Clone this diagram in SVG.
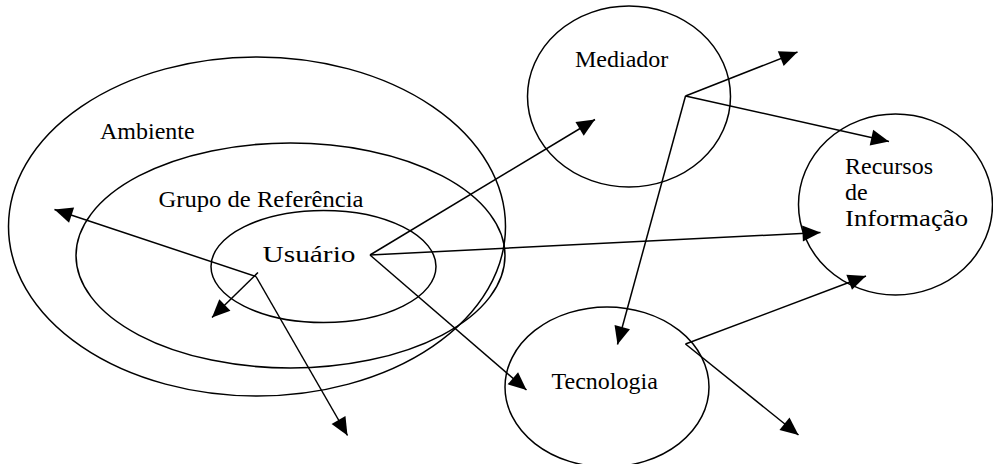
<svg xmlns="http://www.w3.org/2000/svg" width="993" height="464" viewBox="0 0 993 464">
  <style>
    .ring { fill: none; stroke: #000; stroke-width: 1.5; }
    .link { fill: none; stroke: #000; stroke-width: 1.5; marker-end: url(#head); }
    .label { font-family: "Liberation Serif", serif; font-size: 24px; fill: #000; }
  </style>
  <defs>
    <marker id="head" markerUnits="userSpaceOnUse" markerWidth="18" markerHeight="16" refX="18" refY="8" orient="auto" overflow="visible">
      <path d="M0,0 L18,8 L0,16 Z" fill="#000"/>
    </marker>
  </defs>
  <rect width="993" height="464" fill="#fff"/>

  <g id="ambiente">
    <ellipse class="ring" cx="257" cy="226.5" rx="248.5" ry="169.5"/>
    <text class="label" x="100" y="138.5">Ambiente</text>
  </g>

  <g id="grupo-referencia">
    <ellipse class="ring" cx="290.5" cy="255.5" rx="214.5" ry="112.5"/>
    <text class="label" x="158.5" y="206.5" textLength="205" lengthAdjust="spacingAndGlyphs">Grupo de Referência</text>
  </g>

  <g id="usuario">
    <ellipse class="ring" cx="323.5" cy="266.5" rx="112.5" ry="56"/>
    <text class="label" x="262.5" y="261.5" textLength="93" lengthAdjust="spacingAndGlyphs">Usuário</text>
  </g>

  <g id="mediador">
    <ellipse class="ring" cx="629" cy="96.5" rx="101.5" ry="90.5"/>
    <text class="label" x="575" y="66.5">Mediador</text>
  </g>

  <g id="recursos">
    <ellipse class="ring" cx="895.5" cy="204.5" rx="97" ry="90.5"/>
    <text class="label" x="845" y="173.5">Recursos</text>
    <text class="label" x="845" y="200">de</text>
    <text class="label" x="845" y="226" textLength="123" lengthAdjust="spacingAndGlyphs">Informação</text>
  </g>

  <g id="tecnologia">
    <ellipse class="ring" cx="607" cy="387" rx="102" ry="80"/>
    <text class="label" x="551.5" y="388.5">Tecnologia</text>
  </g>

  <g id="connectors">
    <!-- from Usuário -->
    <line class="link" x1="370" y1="255" x2="595" y2="119.5"/>
    <line class="link" x1="370" y1="255" x2="820.5" y2="232.5"/>
    <line class="link" x1="370" y1="255" x2="526.5" y2="390"/>
    <!-- spreading out of the inner circle -->
    <line class="link" x1="256" y1="276.5" x2="54.5" y2="209.5"/>
    <line class="link" x1="258" y1="272.5" x2="212" y2="317.5"/>
    <line class="link" x1="256" y1="276.5" x2="347.5" y2="435.5"/>
    <!-- from Mediador -->
    <line class="link" x1="685.5" y1="96" x2="797.5" y2="52"/>
    <line class="link" x1="685.5" y1="96" x2="889" y2="141.5"/>
    <line class="link" x1="685.5" y1="96" x2="617.5" y2="344.5"/>
    <!-- from Tecnologia -->
    <line class="link" x1="685.5" y1="344" x2="866" y2="276"/>
    <line class="link" x1="685.5" y1="344" x2="798.5" y2="435"/>
  </g>
</svg>
